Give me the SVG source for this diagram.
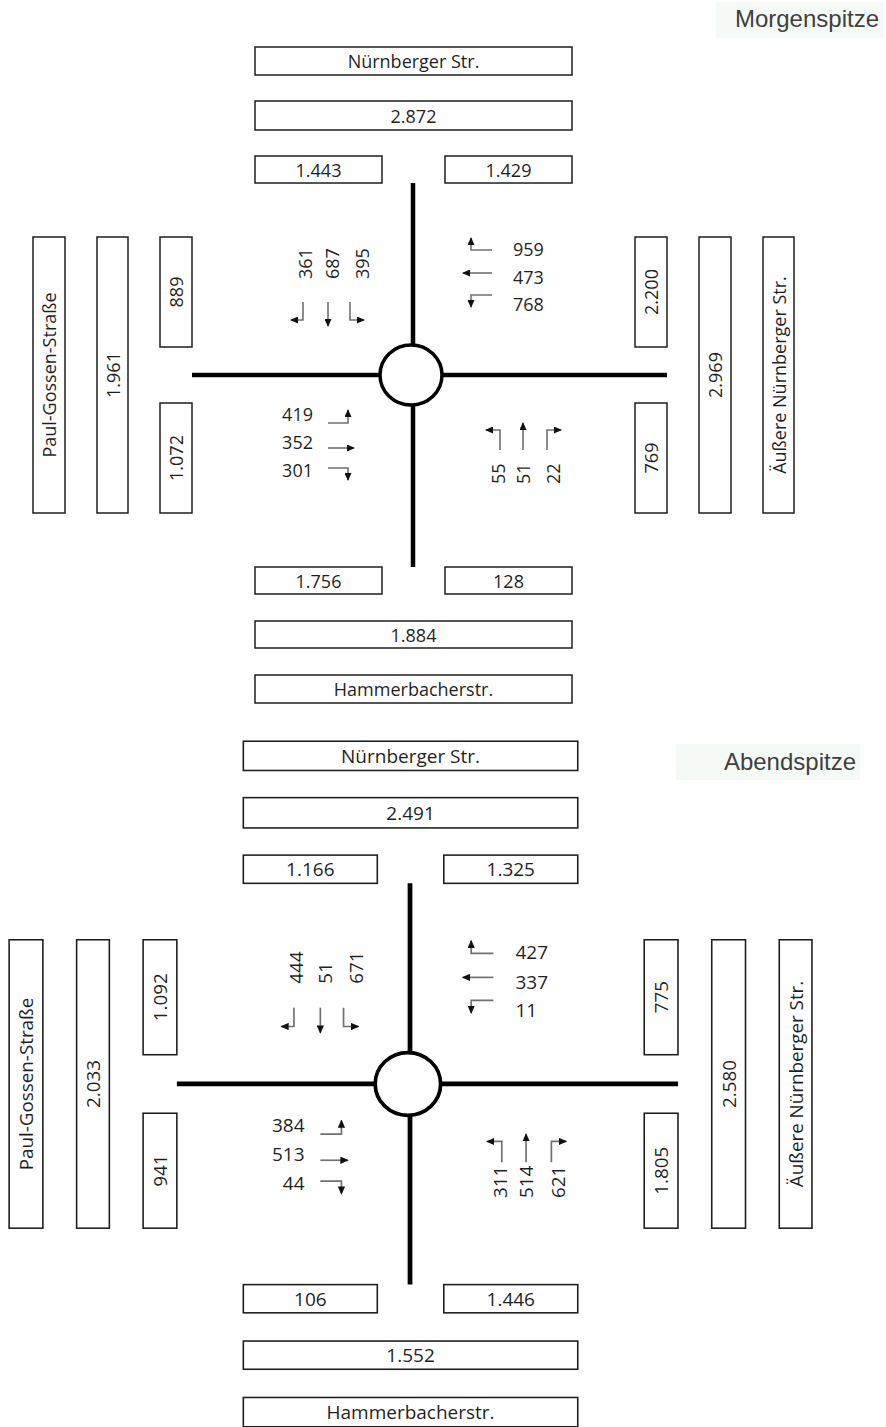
<svg xmlns="http://www.w3.org/2000/svg" width="886" height="1427" viewBox="0 0 886 1427">
<style>
.bg{fill:#fff}
.box{fill:#fff;stroke:#1e1e1e;stroke-width:1.5}
.t{font-family:"Open Sans","Noto Sans",sans-serif;font-size:18px;fill:#1f1f1f;text-anchor:middle;dominant-baseline:central}
.ts{font-family:"Open Sans","Noto Sans",sans-serif;font-size:18px;fill:#1f1f1f;text-anchor:start;dominant-baseline:central}
.te{font-family:"Open Sans","Noto Sans",sans-serif;font-size:18px;fill:#1f1f1f;text-anchor:end;dominant-baseline:central}
.road{stroke:#000;stroke-width:4.5;fill:none}
.ring{stroke:#000;stroke-width:3.5;fill:#fff}
.arr{stroke:#707070;stroke-width:1.6;fill:none;marker-end:url(#ah)}
.title{font-family:"Liberation Sans",Arial,sans-serif;font-size:24px;fill:#404040}
.tbg{fill:#f6faf7}
</style>
<defs>
<marker id="ah" viewBox="0 0 8 7" refX="7" refY="3.5" markerWidth="8" markerHeight="7" markerUnits="userSpaceOnUse" orient="auto"><path d="M0,0L8,3.5L0,7z" fill="#111"/></marker>
</defs>
<rect class="bg" x="0" y="0" width="886" height="1427"/>

<g id="label-morgen">
<rect class="tbg" x="716" y="2" width="168" height="36"/>
<text class="title" x="879" y="27" text-anchor="end">Morgenspitze</text>
</g>
<g id="label-abend">
<rect class="tbg" x="676" y="744" width="184" height="36"/>
<text class="title" x="856" y="770" text-anchor="end">Abendspitze</text>
</g>

<!-- ===== Morgenspitze ===== -->
<g id="morgen">
<g id="m-connectors">
<path class="road" d="M413,183V345M413,405V567M192,375H380M442,375H667"/>
<ellipse class="ring" cx="411" cy="375" rx="31" ry="30"/>
<path class="arr" d="M303,302V320H291"/>
<path class="arr" d="M328,302V326"/>
<path class="arr" d="M350,302V320H364"/>
<path class="arr" d="M492,250H471V238"/>
<path class="arr" d="M492,273H463"/>
<path class="arr" d="M492,295H471V307"/>
<path class="arr" d="M328,423H348V410"/>
<path class="arr" d="M328,448H354"/>
<path class="arr" d="M328,468H348V480"/>
<path class="arr" d="M500,450V430H486"/>
<path class="arr" d="M523,450V423"/>
<path class="arr" d="M547,450V430H561"/>
</g>
<g id="m-n1"><rect class="box" x="255" y="47" width="317" height="28"/><text class="t" x="413.5" y="61">Nürnberger Str.</text></g>
<g id="m-n2"><rect class="box" x="255" y="101" width="317" height="29"/><text class="t" x="413.5" y="115.5">2.872</text></g>
<g id="m-n3"><rect class="box" x="255" y="156" width="127" height="27"/><text class="t" x="318.5" y="169.5">1.443</text></g>
<g id="m-n4"><rect class="box" x="445" y="156" width="127" height="27"/><text class="t" x="508.5" y="169.5">1.429</text></g>
<g id="m-w1"><rect class="box" x="33" y="237" width="32" height="276"/><text class="t" transform="translate(49,375) rotate(-90)">Paul-Gossen-Straße</text></g>
<g id="m-w2"><rect class="box" x="97" y="237" width="31" height="276"/><text class="t" transform="translate(112.5,375) rotate(-90)">1.961</text></g>
<g id="m-w3"><rect class="box" x="160" y="237" width="32" height="110"/><text class="t" transform="translate(176,292) rotate(-90)">889</text></g>
<g id="m-w4"><rect class="box" x="160" y="403" width="32" height="110"/><text class="t" transform="translate(176,458) rotate(-90)">1.072</text></g>
<g id="m-e1"><rect class="box" x="635" y="237" width="32" height="110"/><text class="t" transform="translate(651,292) rotate(-90)">2.200</text></g>
<g id="m-e2"><rect class="box" x="635" y="403" width="32" height="110"/><text class="t" transform="translate(651,458) rotate(-90)">769</text></g>
<g id="m-e3"><rect class="box" x="699" y="237" width="32" height="276"/><text class="t" transform="translate(715,375) rotate(-90)">2.969</text></g>
<g id="m-e4"><rect class="box" x="763" y="237" width="31" height="276"/><text class="t" transform="translate(778.5,375) rotate(-90)">Äußere Nürnberger Str.</text></g>
<g id="m-s1"><rect class="box" x="255" y="567" width="127" height="27"/><text class="t" x="318.5" y="580.5">1.756</text></g>
<g id="m-s2"><rect class="box" x="445" y="567" width="127" height="27"/><text class="t" x="508.5" y="580.5">128</text></g>
<g id="m-s3"><rect class="box" x="255" y="621" width="317" height="27"/><text class="t" x="413.5" y="634.5">1.884</text></g>
<g id="m-s4"><rect class="box" x="255" y="675" width="317" height="28"/><text class="t" x="413.5" y="689">Hammerbacherstr.</text></g>
<g id="m-sb"><text class="ts" transform="translate(305,279) rotate(-90)">361</text><text class="ts" transform="translate(332,279) rotate(-90)">687</text><text class="ts" transform="translate(362,279) rotate(-90)">395</text></g>
<g id="m-wb"><text class="ts" x="513" y="249">959</text><text class="ts" x="513" y="277">473</text><text class="ts" x="513" y="304">768</text></g>
<g id="m-eb"><text class="te" x="313" y="414">419</text><text class="te" x="313" y="442">352</text><text class="te" x="313" y="470">301</text></g>
<g id="m-nb"><text class="ts" transform="translate(498,484) rotate(-90)">55</text><text class="ts" transform="translate(523,484) rotate(-90)">51</text><text class="ts" transform="translate(553,484) rotate(-90)">22</text></g>
</g>

<!-- ===== Abendspitze ===== -->
<g id="abend" transform="matrix(1.055 0 0 1.045 -25.7 692.1)">
<g id="a-connectors">
<path class="road" d="M413,183V345M413,405V567M192,375H380M442,375H667"/>
<ellipse class="ring" cx="411" cy="375" rx="31" ry="30"/>
<path class="arr" d="M303,302V320H291"/>
<path class="arr" d="M328,302V326"/>
<path class="arr" d="M350,302V320H364"/>
<path class="arr" d="M492,250H471V238"/>
<path class="arr" d="M492,273H463"/>
<path class="arr" d="M492,295H471V307"/>
<path class="arr" d="M328,423H348V410"/>
<path class="arr" d="M328,448H354"/>
<path class="arr" d="M328,468H348V480"/>
<path class="arr" d="M500,450V430H486"/>
<path class="arr" d="M523,450V423"/>
<path class="arr" d="M547,450V430H561"/>
</g>
<g id="a-n1"><rect class="box" x="255" y="47" width="317" height="28"/><text class="t" x="413.5" y="61">Nürnberger Str.</text></g>
<g id="a-n2"><rect class="box" x="255" y="101" width="317" height="29"/><text class="t" x="413.5" y="115.5">2.491</text></g>
<g id="a-n3"><rect class="box" x="255" y="156" width="127" height="27"/><text class="t" x="318.5" y="169.5">1.166</text></g>
<g id="a-n4"><rect class="box" x="445" y="156" width="127" height="27"/><text class="t" x="508.5" y="169.5">1.325</text></g>
<g id="a-w1"><rect class="box" x="33" y="237" width="32" height="276"/><text class="t" transform="translate(49,375) rotate(-90)">Paul-Gossen-Straße</text></g>
<g id="a-w2"><rect class="box" x="97" y="237" width="31" height="276"/><text class="t" transform="translate(112.5,375) rotate(-90)">2.033</text></g>
<g id="a-w3"><rect class="box" x="160" y="237" width="32" height="110"/><text class="t" transform="translate(176,292) rotate(-90)">1.092</text></g>
<g id="a-w4"><rect class="box" x="160" y="403" width="32" height="110"/><text class="t" transform="translate(176,458) rotate(-90)">941</text></g>
<g id="a-e1"><rect class="box" x="635" y="237" width="32" height="110"/><text class="t" transform="translate(651,292) rotate(-90)">775</text></g>
<g id="a-e2"><rect class="box" x="635" y="403" width="32" height="110"/><text class="t" transform="translate(651,458) rotate(-90)">1.805</text></g>
<g id="a-e3"><rect class="box" x="699" y="237" width="32" height="276"/><text class="t" transform="translate(715,375) rotate(-90)">2.580</text></g>
<g id="a-e4"><rect class="box" x="763" y="237" width="31" height="276"/><text class="t" transform="translate(778.5,375) rotate(-90)">Äußere Nürnberger Str.</text></g>
<g id="a-s1"><rect class="box" x="255" y="567" width="127" height="27"/><text class="t" x="318.5" y="580.5">106</text></g>
<g id="a-s2"><rect class="box" x="445" y="567" width="127" height="27"/><text class="t" x="508.5" y="580.5">1.446</text></g>
<g id="a-s3"><rect class="box" x="255" y="621" width="317" height="27"/><text class="t" x="413.5" y="634.5">1.552</text></g>
<g id="a-s4"><rect class="box" x="255" y="675" width="317" height="28"/><text class="t" x="413.5" y="689">Hammerbacherstr.</text></g>
<g id="a-sb"><text class="ts" transform="translate(305,279) rotate(-90)">444</text><text class="ts" transform="translate(332,279) rotate(-90)">51</text><text class="ts" transform="translate(362,279) rotate(-90)">671</text></g>
<g id="a-wb"><text class="ts" x="513" y="249">427</text><text class="ts" x="513" y="277">337</text><text class="ts" x="513" y="304">11</text></g>
<g id="a-eb"><text class="te" x="313" y="414">384</text><text class="te" x="313" y="442">513</text><text class="te" x="313" y="470">44</text></g>
<g id="a-nb"><text class="ts" transform="translate(498,484) rotate(-90)">311</text><text class="ts" transform="translate(523,484) rotate(-90)">514</text><text class="ts" transform="translate(553,484) rotate(-90)">621</text></g>
</g>
</svg>
